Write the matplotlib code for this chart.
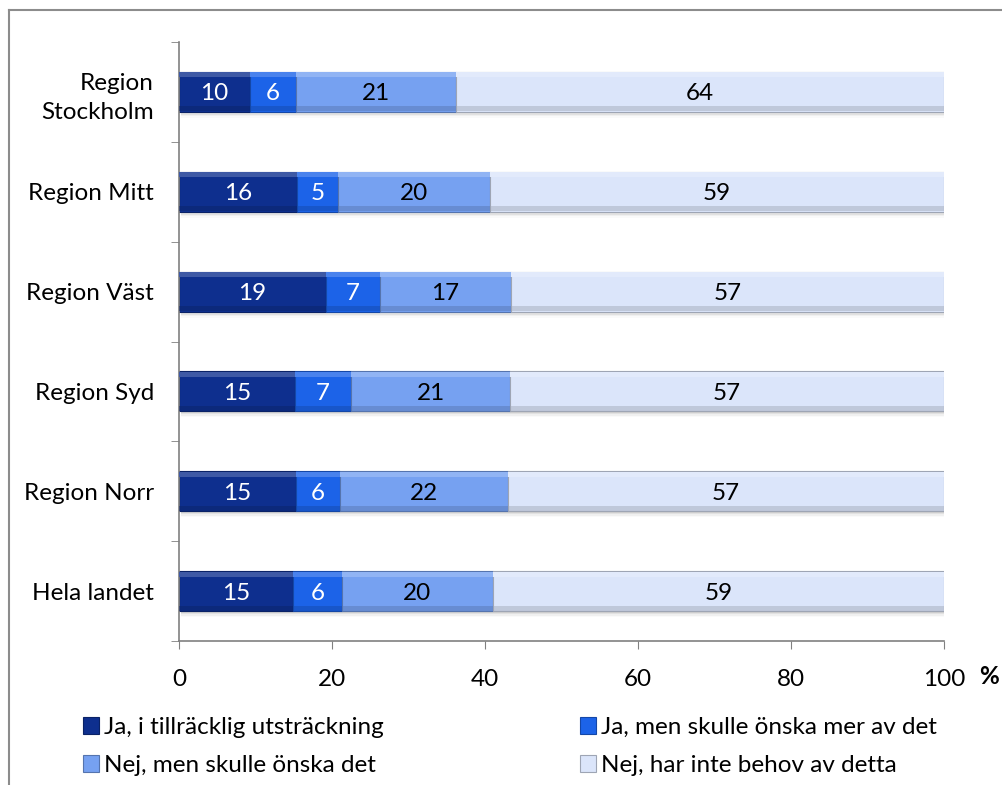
import numpy as np
import matplotlib
matplotlib.use('Agg')
from matplotlib import pyplot as plt
from matplotlib.lines import Line2D
import matplotlib.colors as mcolors

plt.rcParams['font.family'] = ['Lato', 'DejaVu Sans']

# Data (bottom to top)
regions = ['Hela landet', 'Region Norr', 'Region Syd', 'Region Väst', 'Region Mitt', 'Region\nStockholm']
series = ['Ja, i tillräcklig utsträckning', 'Ja, men skulle önska mer av det',
          'Nej, men skulle önska det', 'Nej, har inte behov av detta']
ja_tillracklig = [14.9, 15.3, 15.2, 19.2, 15.4, 9.3]
ja_mer = [6.4, 5.7, 7.3, 7.1, 5.4, 6.0]
nej_onska = [19.7, 22.0, 20.8, 17.1, 19.9, 20.9]
nej_behov = [59.0, 57.0, 56.7, 56.6, 59.3, 63.8]
labels_tillracklig = [15, 15, 15, 19, 16, 10]
labels_mer = [6, 6, 7, 7, 5, 6]
labels_onska = [20, 22, 21, 17, 20, 21]
labels_behov = [59, 57, 57, 57, 59, 64]
xticks = [0, 20, 40, 60, 80, 100]

colors = ['#0e2f8e', '#1c63e8', '#76a1f1', '#dbe5fa']
text_colors = ['white', 'white', 'black', 'black']

values = [ja_tillracklig, ja_mer, nej_onska, nej_behov]
labels = [labels_tillracklig, labels_mer, labels_onska, labels_behov]

fs = 17.5

fig = plt.figure(figsize=(10.02, 7.85), dpi=100)
ax = fig.add_axes([0.1786, 0.1834, 0.942 - 0.1786, 0.9465 - 0.1834])

y = np.arange(len(regions))
h = 0.4

# shadow under bars
total = np.sum(values, axis=0)
for k, a in enumerate([0.08, 0.06, 0.04, 0.02]):
    ax.barh(y - 0.015 - 0.015 * k, total, height=h, left=0.3, color='black', alpha=a, zorder=1, linewidth=0)

left = np.zeros(len(regions))
handles = []
for i, (vals, c) in enumerate(zip(values, colors)):
    vals = np.array(vals)
    rgb = np.array(mcolors.to_rgb(c))
    light = np.clip(rgb + (1 - rgb) * 0.2, 0, 1)
    dark = rgb * 0.72
    b = ax.barh(y, vals, height=h, left=left, color=c, edgecolor=dark, linewidth=0.8, zorder=2, label=series[i])
    # bevel strips
    ax.barh(y + h / 2 - 0.03, vals, height=0.05, left=left, color=light, linewidth=0, zorder=3)
    ax.barh(y - h / 2 + 0.03, vals, height=0.05, left=left, color=dark, alpha=0.45, linewidth=0, zorder=3)
    handles.append(b)
    for j in range(len(regions)):
        ax.text(left[j] + vals[j] / 2, y[j], str(labels[i][j]), ha='center', va='center_baseline',
                fontsize=fs, color=text_colors[i], zorder=4)
    left = left + vals

ax.set_xlim(0, 100)
ax.set_ylim(-0.5, len(regions) - 0.5)
ax.set_xticks(xticks)
ax.set_xticklabels([str(v) for v in xticks], fontsize=fs)
ax.set_yticks(y)
ax.set_yticklabels(regions, fontsize=fs, linespacing=1.45)
ax.set_yticks(np.arange(-0.5, len(regions), 1), minor=True)
ax.tick_params(axis='y', which='major', length=0, pad=18)
ax.tick_params(axis='y', which='minor', length=6, color='#808080', direction='out')
ax.tick_params(axis='x', length=6, color='#808080', direction='out', pad=14)
for s in ['top', 'right']:
    ax.spines[s].set_visible(False)
for s in ['left', 'bottom']:
    ax.spines[s].set_color('#808080')
    ax.spines[s].set_linewidth(1.2)

fig.text(0.977, 1 - 676 / 785, '%', fontsize=fs, fontweight='bold', ha='left', va='center')

order = [0, 2, 1, 3]
leg = fig.legend([handles[k] for k in order], [series[k] for k in order], ncol=2,
                 loc='upper left', bbox_to_anchor=(0.083, 1 - 717 / 785), frameon=False, fontsize=fs,
                 handlelength=0.65, handleheight=0.65, handletextpad=0.2,
                 columnspacing=8.1, labelspacing=0.7, borderaxespad=0, borderpad=0)

# outer frame (cropped at right and bottom)
fig.add_artist(Line2D([9 / 1002, 1], [1 - 10 / 785, 1 - 10 / 785], color='#8c8c8c', lw=1.5))
fig.add_artist(Line2D([9 / 1002, 9 / 1002], [0, 1 - 10 / 785], color='#8c8c8c', lw=1.5))

fig.savefig('out.png', dpi=100)
